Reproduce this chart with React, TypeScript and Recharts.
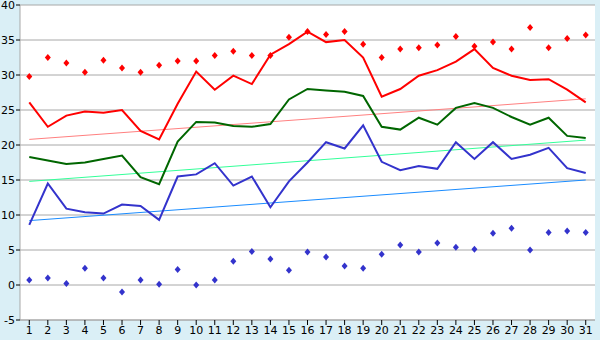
import { ComposedChart, Line, Scatter, XAxis, YAxis, CartesianGrid, ReferenceLine } from 'recharts';

const days = Array.from({ length: 31 }, (_, i) => i + 1);
const maxTemp = [26.1, 22.6, 24.2, 24.8, 24.6, 25.0, 22.0, 20.8, 25.9, 30.5, 27.9, 29.9, 28.7, 32.9, 34.4, 36.2, 34.7, 35.0, 32.5, 26.9, 28.0, 29.9, 30.7, 31.9, 33.7, 31.0, 29.9, 29.3, 29.4, 27.9, 26.1];
const avgTemp = [18.3, 17.8, 17.3, 17.5, 18.0, 18.5, 15.4, 14.4, 20.5, 23.3, 23.2, 22.7, 22.6, 23.0, 26.5, 28.0, 27.8, 27.6, 27.0, 22.6, 22.2, 23.9, 22.9, 25.3, 26.0, 25.3, 24.0, 22.9, 23.9, 21.3, 21.0];
const minTemp = [8.6, 14.5, 10.9, 10.4, 10.2, 11.5, 11.3, 9.3, 15.5, 15.8, 17.4, 14.2, 15.5, 11.1, 14.8, 17.5, 20.4, 19.5, 22.8, 17.6, 16.4, 17.0, 16.6, 20.4, 18.0, 20.4, 18.0, 18.6, 19.6, 16.7, 16.0];
const recordMax = [29.8, 32.5, 31.7, 30.4, 32.1, 31.0, 30.4, 31.4, 32.0, 32.0, 32.8, 33.4, 32.8, 32.8, 35.4, 36.2, 35.8, 36.2, 34.4, 32.5, 33.7, 33.9, 34.3, 35.5, 34.1, 34.7, 33.7, 36.8, 33.9, 35.2, 35.7];
const recordMin = [0.7, 1.0, 0.2, 2.4, 1.0, -1.0, 0.7, 0.1, 2.2, 0.0, 0.7, 3.4, 4.8, 3.7, 2.1, 4.7, 4.0, 2.7, 2.4, 4.4, 5.7, 4.7, 6.0, 5.4, 5.1, 7.4, 8.1, 5.0, 7.5, 7.7, 7.5];
// trend lines: value at first and last day
const maxTrend = [20.8, 26.6];
const avgTrend = [14.8, 20.7];
const minTrend = [9.2, 15.0];
const yTicks = [-5, 0, 5, 10, 15, 20, 25, 30, 35, 40];

const data = days.map((d, i) => ({
  day: d,
  max: maxTemp[i],
  avg: avgTemp[i],
  min: minTemp[i],
  recMax: recordMax[i],
  recMin: recordMin[i],
}));

const GRID = '#a8a8a8';
const FONT = { fill: '#000', fontSize: 11, fontFamily: 'DejaVu Sans' };

function diamond(color: string) {
  return (p: any) => {
    const { cx, cy } = p;
    return <polygon points={`${cx},${cy - 3.5} ${cx + 3},${cy} ${cx},${cy + 3.5} ${cx - 3},${cy}`} fill={color} />;
  };
}

function trendSegment(t: number[]) {
  return [{ x: days[0], y: t[0] }, { x: days[days.length - 1], y: t[1] }];
}

export default function App() {
  return (
    <div style={{ position: 'absolute', left: 0, top: 0, width: 600, height: 340, background: '#daeff6' }}>
      <ComposedChart width={600} height={340} data={data} margin={{ top: 5, right: 5, bottom: 0, left: 0 }}>
        <CartesianGrid vertical={false} stroke={GRID} fill="#fff" fillOpacity={1} />
        <XAxis dataKey="day" scale="band" height={20} interval={0} tick={FONT} tickSize={5} tickMargin={1}
          stroke={GRID} tickLine={{ stroke: '#000' }} />
        <YAxis domain={[-5, 40]} ticks={yTicks} width={20} tick={FONT} tickSize={4} tickMargin={1}
          stroke={GRID} tickLine={{ stroke: '#000' }} interval={0} />
        <YAxis yAxisId="r" orientation="right" width={0} tick={false} tickLine={false} stroke={GRID} />
        <ReferenceLine segment={trendSegment(maxTrend)} stroke="#ff8080" strokeWidth={1} />
        <ReferenceLine segment={trendSegment(avgTrend)} stroke="#33ff99" strokeWidth={1} />
        <ReferenceLine segment={trendSegment(minTrend)} stroke="#1a8cff" strokeWidth={1} />
        <Line dataKey="max" stroke="#ff0000" strokeWidth={2} dot={false} isAnimationActive={false} />
        <Line dataKey="avg" stroke="#006600" strokeWidth={2} dot={false} isAnimationActive={false} />
        <Line dataKey="min" stroke="#3333cc" strokeWidth={2} dot={false} isAnimationActive={false} />
        <Scatter dataKey="recMax" shape={diamond('#ff0000')} isAnimationActive={false} />
        <Scatter dataKey="recMin" shape={diamond('#3333cc')} isAnimationActive={false} />
      </ComposedChart>
    </div>
  );
}
